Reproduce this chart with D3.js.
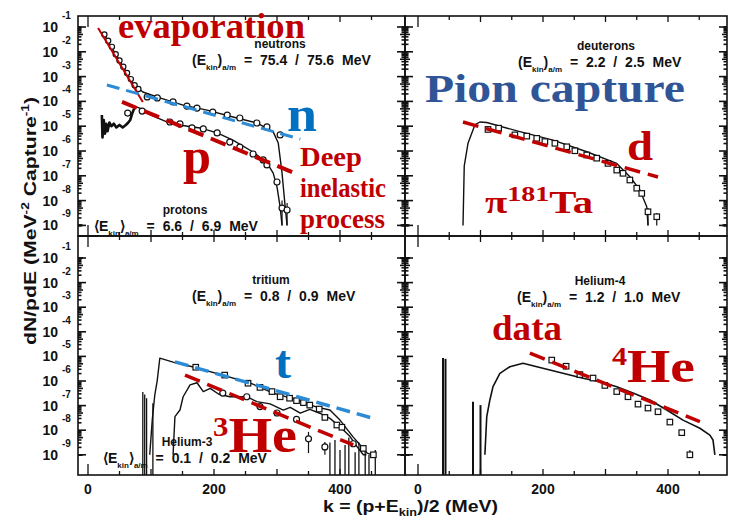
<!DOCTYPE html>
<html>
<head>
<meta charset="utf-8">
<script src="https://cdn.jsdelivr.net/npm/d3@7/dist/d3.min.js"></script>
<style>
  body { margin: 0; background: #fff }
  svg { display: block }
  .sm { font-family: 'Liberation Sans', Arial, sans-serif; font-weight: bold; fill: #111 }
  .big { font-family: 'Liberation Serif', 'Times New Roman', serif; font-weight: bold }
</style>
</head>
<body>
<svg width="734" height="521"></svg>
<script>
/*global d3*/

// every point is [kinetic energy k in MeV, log10(dN/pdE)]; -11 means "runs into the axis"

// neutrons (top left)
var neutronLine = [[24, -1.24], [40, -1.93], [56, -2.61], [71, -3.26], [87, -3.62], [114, -3.86], [151, -4.15],
  [189, -4.35], [230, -4.63], [268, -4.87], [294, -5.23], [302, -5.68], [308, -6.89], [313, -8.26], [316, -11]]
var neutronPts = [[26, -1.3], [32, -1.55], [38, -1.8], [44, -2.1], [50, -2.35], [56, -2.6], [62, -2.85], [68, -3.1],
  [74, -3.35], [80, -3.5], [94, -3.82], [110, -3.86], [135, -4.02], [157, -4.19], [173, -4.27], [198, -4.43],
  [221, -4.55], [241, -4.67], [268, -4.87], [284, -5.03], [305, -5.35]]

// protons (top left)
var protonLine = [[22, -4.55], [23, -5.45], [25, -4.75], [27, -5.3], [29, -4.9], [31, -5.2], [34, -4.85], [37, -5.0],
  [41, -4.9], [45, -5.05], [50, -4.95], [55, -5.05], [60, -4.95], [64, -4.85], [67, -4.75], [70, -4.5], [73, -4.3],
  [77, -4.23], [86, -4.3], [100, -4.55], [125, -4.83], [150, -4.97], [178, -5.07], [205, -5.27], [230, -5.56],
  [262, -6.04], [284, -6.48], [294, -6.89], [300, -7.45], [305, -8.26], [308, -11]]
var protonPts = [[63, -4.47], [86, -4.39], [130, -4.83], [146, -4.91], [165, -5.07], [183, -5.11], [205, -5.27],
  [225, -5.64], [241, -5.84], [262, -6.12], [278, -6.36], [284, -6.56], [300, -7.25], [308, -8.3], [316, -8.38]]
var protonErr = [[308, -8.0, -11], [316, -8.1, -11]]

var evapLine = [[16, -1.04], [87, -4.02]]
var nDash = [[30, -3.34], [337, -5.52]]
var pDash = [[54, -4.02], [324, -6.85]]

// deuterons (top right)
var deutLine = [[72, -11], [74, -6.6], [80, -5.69], [91, -4.95], [99, -4.83], [110, -4.85], [163, -5.22],
  [216, -5.56], [270, -6.03], [318, -6.5], [339, -7.04], [355, -7.57], [366, -8.25], [368, -11]]
var deutPts = [[112, -5.13], [129, -5.08], [155, -5.35], [174, -5.4], [190, -5.49], [203, -5.62], [219, -5.69],
  [238, -5.83], [251, -5.99], [270, -6.16], [286, -6.29], [304, -6.5], [318, -6.77], [328, -6.9], [339, -7.17],
  [350, -7.5], [358, -7.71], [368, -8.45], [382, -8.65]]
var deutErr = [[368, -8.3, -11], [382, -8.5, -11]]
var dDash = [[72, -4.83], [384, -7.05]]

// tritium and helium-3 (bottom left)
var tritLine = [[98, -11], [102, -7.59], [106, -6.57], [110, -5.96], [114, -5.07], [135, -5.23], [167, -5.43],
  [214, -5.76], [257, -6.08], [294, -6.49], [332, -6.77], [363, -7.06], [384, -7.18], [400, -7.59], [421, -8.28],
  [432, -8.6], [443, -8.93], [452, -11]]
var tritPts = [[171, -5.44], [217, -5.76], [254, -6.09], [273, -6.26], [292, -6.43], [305, -6.64], [320, -6.7],
  [331, -6.8], [342, -6.88], [352, -6.98], [367, -7.14], [376, -7.48], [395, -7.79], [403, -7.88], [437, -8.74],
  [453, -9.01]]
var he3Line = [[135, -11], [138, -7.45], [146, -7.18], [151, -6.64], [162, -6.16], [173, -6.07], [183, -6.43],
  [194, -6.3], [207, -6.53], [225, -6.64], [252, -6.64], [268, -6.84], [289, -6.93], [310, -7.18], [321, -7.07],
  [337, -7.31], [352, -7.15], [368, -7.31], [384, -7.52], [400, -7.86], [416, -8.26], [427, -8.67], [437, -9.08],
  [442, -11]]
var he3Pts = [[214, -6.49], [252, -6.64], [273, -7.04], [300, -7.3], [331, -7.56], [350, -8.35], [376, -8.68],
  [421, -8.55]]
var he3Err = [[350, -8.07, -8.93], [376, -8.48, -9.13]]
var blSpikes = [[87, -6.45], [90, -6.55], [93, -6.7], [103, -6.9], [384, -8.5], [392, -8.4], [400, -8.8],
  [408, -8.6], [414, -8.3], [424, -8.9], [430, -8.5], [440, -8.7], [446, -9.0], [456, -8.8]]
var tDash = [[138, -5.22], [453, -7.52]]
var he3Dash = [[154, -5.76], [421, -8.6]]

// helium-4 (bottom right)
var he4Line = [[107, -11], [110, -7.45], [115, -6.77], [120, -6.23], [131, -5.69], [147, -5.42], [168, -5.28],
  [179, -5.35], [211, -5.55], [264, -5.89], [291, -6.03], [318, -6.23], [345, -6.5], [371, -6.77], [398, -7.18],
  [424, -7.59], [451, -7.92], [467, -8.2], [472, -8.4], [475, -11]]
var he4Pts = [[214, -5.15], [237, -5.4], [259, -5.74], [280, -5.88], [299, -6.18], [318, -6.43], [336, -6.64],
  [352, -6.94], [368, -7.1], [384, -7.25], [403, -7.67], [422, -8.1], [435, -9.08]]
var he4Err = [[435, -8.8, -9.74]]
var brSpikes = [[40, -5.07], [44, -5.1], [88, -6.84], [100, -6.98]]
var he4Dash = [[179, -4.87], [451, -7.65]]

// axis labels
var xTickLabels = [0, 200, 400]
var decades = [1, 2, 3, 4, 5, 6, 7, 8, 9]

;(function () {

  var svg = d3.select('svg')
  var red = '#c00000'
  var blue = '#2b8bd6'

  var xL = d3.scaleLinear().domain([0, 400]).range([88, 340])
  var xR = d3.scaleLinear().domain([0, 400]).range([418, 668])
  var yT = d3.scaleLinear().domain([-1, -9]).range([27, 225.4]).clamp(true)
  var yB = d3.scaleLinear().domain([-1, -9]).range([258, 454.8]).clamp(true)

  var panels = {
    tl: { x: xL, y: yT, x0: 78, x1: 405, y0: 16, y1: 236 },
    tr: { x: xR, y: yT, x0: 405, x1: 727, y0: 16, y1: 236 },
    bl: { x: xL, y: yB, x0: 78, x1: 405, y0: 236, y1: 475 },
    br: { x: xR, y: yB, x0: 405, x1: 727, y0: 236, y1: 475 }
  }

  var defs = svg.append('defs')
  Object.keys(panels).forEach(function (k) {
    var p = panels[k]
    p.y.clamp(false)
    p.lo = p.y.invert(p.y1)
    p.hi = p.y.invert(p.y0)
    p.y.clamp(true)
    defs.append('clipPath').attr('id', 'clip-' + k)
      .append('rect').attr('x', p.x0).attr('y', p.y0).attr('width', p.x1 - p.x0).attr('height', p.y1 - p.y0)
    p.g = svg.append('g').attr('clip-path', 'url(#clip-' + k + ')')
  })

  // frames and ticks
  var axes = svg.append('g').attr('stroke', '#111').attr('fill', 'none')
  Object.keys(panels).forEach(function (k) {
    var p = panels[k]
    axes.append('rect').attr('x', p.x0).attr('y', p.y0).attr('width', p.x1 - p.x0).attr('height', p.y1 - p.y0)
      .attr('stroke-width', 1.6)

    // energy ticks every 50 MeV, inward from top and bottom
    d3.range(0, 501, 50).forEach(function (v) {
      var x = p.x(v)
      if (x <= p.x0 + 2 || x >= p.x1 - 2) return
      var len = v === 0 ? 11 : (v % 100 === 0 ? 6 : 4)
      axes.append('line').attr('x1', x).attr('x2', x).attr('y1', p.y0).attr('y2', p.y0 + len).attr('stroke-width', 1.3)
      axes.append('line').attr('x1', x).attr('x2', x).attr('y1', p.y1).attr('y2', p.y1 - len).attr('stroke-width', 1.3)
    })

    // logarithmic ticks on both vertical sides
    d3.range(0, -12, -1).forEach(function (dec) {
      d3.range(1, 10).forEach(function (m) {
        var v = dec + Math.log10(m)
        if (v > p.hi || v < p.lo) return
        var y = p.y(v)
        var len = m === 1 ? 8 : (m === 5 ? 5 : 3.5)
        axes.append('line').attr('x1', p.x0).attr('x2', p.x0 + len).attr('y1', y).attr('y2', y).attr('stroke-width', 1.6)
        axes.append('line').attr('x1', p.x1).attr('x2', p.x1 - len).attr('y1', y).attr('y2', y).attr('stroke-width', 1.6)
      })
    })
  })
  // the zero tick sticks out left of the middle line
  axes.append('line').attr('x1', 78).attr('x2', 98).attr('y1', 236).attr('y2', 236).attr('stroke-width', 1.6)

  // y tick labels
  var lab = svg.append('g').attr('class', 'sm')
  ;[yT, yB].forEach(function (ys) {
    decades.forEach(function (d) {
      var y = ys(-d)
      lab.append('text').attr('x', 58).attr('y', y + 5).attr('text-anchor', 'end')
        .style('font-size', '14px').text('10')
      lab.append('text').attr('x', 62).attr('y', y - 8)
        .style('font-size', '10px').text('-' + d)
    })
  })
  // x tick labels
  ;[xL, xR].forEach(function (xs) {
    xTickLabels.forEach(function (v) {
      lab.append('text').attr('x', xs(v)).attr('y', 494).attr('text-anchor', 'middle')
        .style('font-size', '14px').text(v)
    })
  })

  // axis titles
  var yt = lab.append('text').attr('transform', 'translate(36,221) rotate(-90)').attr('text-anchor', 'middle')
    .style('font-size', '17px')
    .attr('textLength', 248).attr('lengthAdjust', 'spacingAndGlyphs')
  yt.append('tspan').text('dN/pdE (MeV')
  yt.append('tspan').attr('dy', -7).style('font-size', '11px').text('-2')
  yt.append('tspan').attr('dy', 7).text(' Capture')
  yt.append('tspan').attr('dy', -7).style('font-size', '11px').text('-1')
  yt.append('tspan').attr('dy', 7).text(')')

  var xt = lab.append('text').attr('x', 323).attr('y', 512).style('font-size', '17px')
    .attr('textLength', 175).attr('lengthAdjust', 'spacingAndGlyphs')
  xt.append('tspan').text('k = (p+E')
  xt.append('tspan').attr('dy', 4).style('font-size', '11px').text('kin')
  xt.append('tspan').attr('dy', -4).text(')/2 (MeV)')

  // small in-plot labels: particle name, then the mean kinetic energy line under it
  function name (txt, x, y) {
    lab.append('text').attr('x', x).attr('y', y).attr('text-anchor', 'middle').style('font-size', '12px').text(txt)
  }
  function ekin (x0, y, open, close, vals) {
    var t = lab.append('text').attr('x', x0).attr('y', y).style('font-size', '14px').style('word-spacing', '4px')
    t.append('tspan').text(open + 'E')
    t.append('tspan').attr('dy', 5).style('font-size', '8px').text('kin')
    t.append('tspan').attr('dy', -5).text(close)
    t.append('tspan').attr('dy', 5).style('font-size', '8px').text('a/m')
    t.append('tspan').attr('dy', -5).text(' = ' + vals)
  }
  name('neutrons', 280, 48)
  ekin(192, 65, '(', ')', '75.4 / 75.6 MeV')
  name('protons', 185, 214)
  ekin(94, 231, '\u27E8', '\u27E9', '6.6 / 6.9 MeV')
  name('deuterons', 606, 50)
  ekin(518, 67, '(', ')', '2.2 / 2.5 MeV')
  name('tritium', 271, 284)
  ekin(192, 301, '(', ')', '0.8 / 0.9 MeV')
  name('Helium-3', 187, 446)
  ekin(103, 463, '\u27E8', '\u27E9', '0.1 / 0.2 MeV')
  name('Helium-4', 600, 285)
  ekin(517, 302, '(', ')', '1.2 / 1.0 MeV')

  // spectra
  function curve (p, data, w) {
    p.g.append('path').datum(data)
      .attr('d', d3.line().x(function (d) { return p.x(d[0]) }).y(function (d) { return p.y(d[1]) }))
      .attr('fill', 'none').attr('stroke', '#111').attr('stroke-width', w || 1.4).attr('stroke-linejoin', 'round')
  }
  function spikes (p, data, w) {
    p.g.selectAll(null).data(data).enter().append('line')
      .attr('x1', function (d) { return p.x(d[0]) }).attr('x2', function (d) { return p.x(d[0]) })
      .attr('y1', p.y1).attr('y2', function (d) { return p.y(d[1]) })
      .attr('stroke', '#111').attr('stroke-width', w || 1.3)
  }
  function errs (p, data) {
    p.g.selectAll(null).data(data).enter().append('line')
      .attr('x1', function (d) { return p.x(d[0]) }).attr('x2', function (d) { return p.x(d[0]) })
      .attr('y1', function (d) { return p.y(d[1]) }).attr('y2', function (d) { return p.y(d[2]) })
      .attr('stroke', '#111').attr('stroke-width', 1.2)
  }
  function circles (p, data, r) {
    p.g.selectAll(null).data(data).enter().append('circle')
      .attr('cx', function (d) { return p.x(d[0]) }).attr('cy', function (d) { return p.y(d[1]) })
      .attr('r', r || 2.8).attr('fill', '#fff').attr('stroke', '#111').attr('stroke-width', 1.2)
  }
  function squares (p, data, s) {
    s = s || 5.5
    p.g.selectAll(null).data(data).enter().append('rect')
      .attr('x', function (d) { return p.x(d[0]) - s / 2 }).attr('y', function (d) { return p.y(d[1]) - s / 2 })
      .attr('width', s).attr('height', s).attr('fill', '#fff').attr('stroke', '#111').attr('stroke-width', 1.2)
  }
  function dash (p, data, color, w, pattern) {
    svg.append('path').datum(data)
      .attr('d', d3.line().x(function (d) { return p.x(d[0]) }).y(function (d) { return p.y(d[1]) }))
      .attr('fill', 'none').attr('stroke', color).attr('stroke-width', w).attr('stroke-dasharray', pattern)
  }

  var tl = panels.tl, tr = panels.tr, bl = panels.bl, br = panels.br

  curve(tl, protonLine, 1.4)
  curve(tl, protonLine.slice(0, 17), 2.6)
  curve(tl, neutronLine, 1.4)
  errs(tl, protonErr)
  circles(tl, neutronPts.slice(0, 10), 2.6)
  circles(tl, neutronPts.slice(10), 3)
  circles(tl, protonPts, 3)

  curve(tr, deutLine)
  errs(tr, deutErr)
  squares(tr, deutPts)

  spikes(bl, blSpikes)
  curve(bl, tritLine)
  curve(bl, he3Line)
  errs(bl, he3Err)
  squares(bl, tritPts)
  circles(bl, he3Pts, 3)

  spikes(br, brSpikes, 2)
  curve(br, he4Line, 1.6)
  errs(br, he4Err)
  squares(br, he4Pts)

  // fits drawn over the data
  dash(tl, evapLine, red, 2, null)
  dash(tl, nDash, blue, 3, '13,7')
  dash(tl, pDash, red, 4, '16,8')
  dash(tr, dDash, red, 3.5, '16,8')
  dash(bl, tDash, blue, 3.5, '14,7')
  dash(bl, he3Dash, red, 3.5, '16,8')
  dash(br, he4Dash, red, 3.5, '16,8')

  // big annotations
  var ann = svg.append('g').attr('class', 'big')
  function big (x, y, size, color, len, parts) {
    var t = ann.append('text').attr('x', x).attr('y', y).attr('fill', color).style('font-size', size + 'px')
      .attr('textLength', len).attr('lengthAdjust', 'spacingAndGlyphs')
    parts.forEach(function (pt) {
      var s = t.append('tspan').text(pt[0])
      if (pt[1]) s.style('font-size', pt[1] + 'px').attr('dy', pt[2])
    })
    return t
  }
  big(118, 38, 35, red, 187, [['evaporation']])
  big(287, 131, 50, '#0070c0', 30, [['n']])
  big(183, 173, 50, red, 28, [['p']])
  big(300, 166, 27, red, 62, [['Deep']])
  big(300, 197, 27, red, 86, [['inelastic']])
  big(300, 228, 27, red, 85, [['process']])
  big(425, 102, 41, '#2f5597', 260, [['Pion capture']])
  big(627, 160, 42, red, 26, [['d']])
  big(485, 213, 32, red, 108, [['\u03C0'], ['181', 22, -12], ['Ta', 32, 12]])
  big(275, 378, 46, '#0070c0', 16, [['t']])
  big(213, 452, 51, red, 84, [['3', 28, -16], ['He', 51, 16]])
  big(492, 340, 35, red, 70, [['data']])
  big(612, 382, 46, red, 83, [['4', 25, -17], ['He', 46, 17]])

})()
</script>
</body>
</html>
